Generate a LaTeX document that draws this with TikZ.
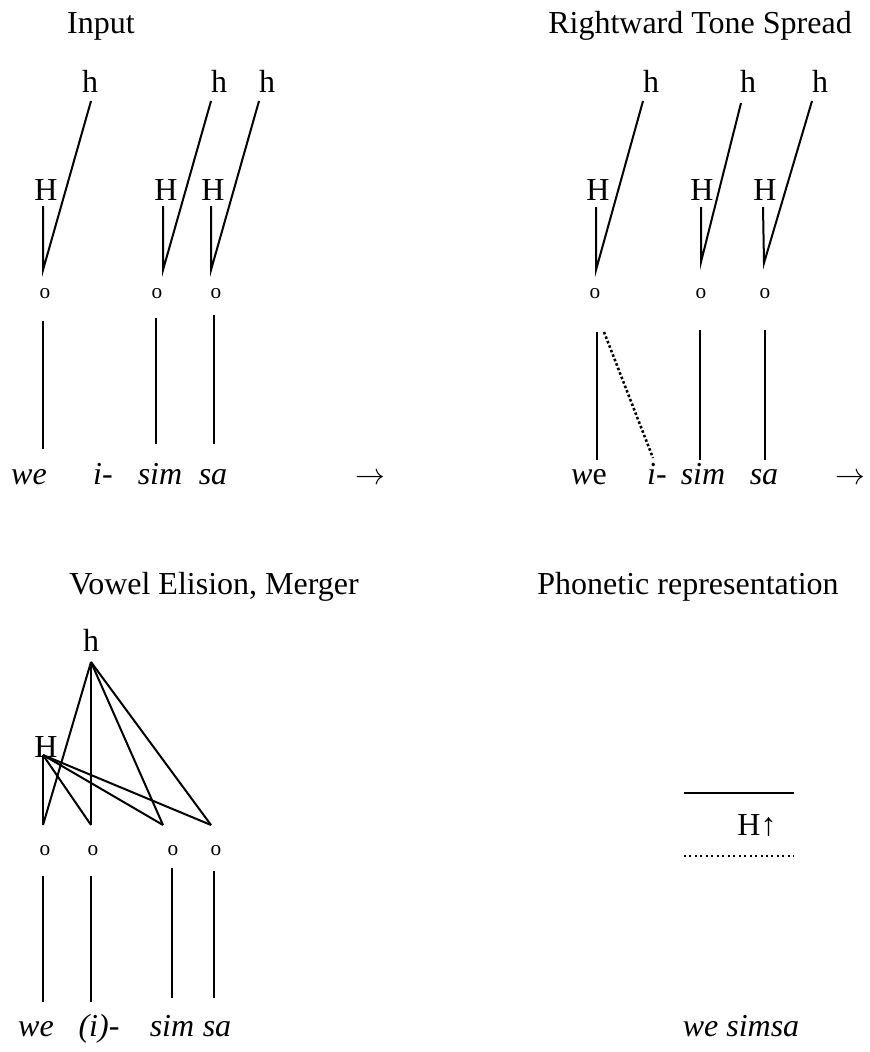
\documentclass[tikz,border=0pt]{standalone}
\usepackage{fontspec}
\setmainfont{Liberation Serif}
\begin{document}
\begin{tikzpicture}[x=0.75pt,y=-0.75pt, line width=1.5pt,
  lab/.style={inner sep=0pt, font=\fontsize{24}{28}\selectfont},
  ttl/.style={lab, anchor=base},
  arr/.style={inner sep=0pt, anchor=base, font=\fontsize{24}{28}\selectfont},
  wrd/.style={inner sep=0pt, anchor=base, font=\fontsize{24}{28}\selectfont\itshape},
  slot/.style={inner sep=0pt, font=\fontsize{16}{18}\selectfont},
  assoc/.style={line width=1.5pt},
  spread/.style={line width=1.9pt, dash pattern=on 1.9pt off 1.7pt},
  phondot/.style={line width=1.6pt, dash pattern=on 1.5pt off 2.6pt}]
\useasboundingbox (0,0) rectangle (869,1052);

% ---------- Panel 1: Input ----------
\node[ttl] (t1) at (101,34) {Input};
\node[lab] (h11) at (90,81) {h};
\node[lab] (h12) at (219,81) {h};
\node[lab] (h13) at (267,81) {h};
\node[lab] (H11) at (46,190) {H};
\node[lab] (H12) at (166,190) {H};
\node[lab] (H13) at (213,190) {H};
\node[slot] (o11) at (45,294) {o};
\node[slot] (o12) at (157,294) {o};
\node[slot] (o13) at (216,294) {o};
\coordinate (h11b) at (91,101);
\coordinate (h12b) at (211,101);
\coordinate (h13b) at (259,101);
\coordinate (H11b) at (43,206);
\coordinate (H12b) at (163,206);
\coordinate (H13b) at (211,206);
\coordinate (o11t) at (43,270);
\coordinate (o12t) at (163,270);
\coordinate (o13t) at (211,270);
\draw[assoc] (H11b) -- (o11t) -- (h11b);
\draw[assoc] (H12b) -- (o12t) -- (h12b);
\draw[assoc] (H13b) -- (o13t) -- (h13b);
\coordinate (s11t) at (43,321);  \coordinate (s11b) at (43,449);
\coordinate (s12t) at (156,318); \coordinate (s12b) at (156,444);
\coordinate (s13t) at (214,315); \coordinate (s13b) at (214,444);
\draw[assoc] (s11t) -- (s11b);
\draw[assoc] (s12t) -- (s12b);
\draw[assoc] (s13t) -- (s13b);
\node[wrd] (w11) at (29,484) {we};
\node[wrd] (w12) at (103,484) {i-};
\node[wrd] (w13) at (160,484) {sim};
\node[wrd] (w14) at (213,484) {sa};
\node[arr] (ar1) at (370,484) {\scalebox{0.9}{$\rightarrow$}};

% ---------- Panel 2: Rightward Tone Spread ----------
\node[ttl] (t2) at (700,34) {Rightward Tone Spread};
\node[lab] (h21) at (651,81) {h};
\node[lab] (h22) at (748,81) {h};
\node[lab] (h23) at (820,81) {h};
\node[lab] (H21) at (598,190) {H};
\node[lab] (H22) at (702,190) {H};
\node[lab] (H23) at (765,190) {H};
\node[slot] (o21) at (595,294) {o};
\node[slot] (o22) at (701,294) {o};
\node[slot] (o23) at (765,294) {o};
\coordinate (h21b) at (643,101);
\coordinate (h22b) at (741,103);
\coordinate (h23b) at (812,101);
\coordinate (H21b) at (596,207);
\coordinate (H22b) at (701,207);
\coordinate (H23b) at (763,207);
\coordinate (o21t) at (596,270);
\coordinate (o22t) at (701,262);
\coordinate (o23t) at (764,263);
\draw[assoc] (H21b) -- (o21t) -- (h21b);
\draw[assoc] (H22b) -- (o22t) -- (h22b);
\draw[assoc] (H23b) -- (o23t) -- (h23b);
\coordinate (s21t) at (597,332); \coordinate (s21b) at (597,460);
\coordinate (d21t) at (604,332); \coordinate (d21b) at (653,458);
\coordinate (s22t) at (700,330); \coordinate (s22b) at (700,460);
\coordinate (s23t) at (765,330); \coordinate (s23b) at (765,460);
\draw[assoc] (s21t) -- (s21b);
\draw[spread] (d21t) -- (d21b);
\draw[assoc] (s22t) -- (s22b);
\draw[assoc] (s23t) -- (s23b);
\node[wrd] (w21) at (589,484) {w\upshape e};
\node[wrd] (w22) at (657,484) {i-};
\node[wrd] (w23) at (703,484) {sim};
\node[wrd] (w24) at (764,484) {sa};
\node[arr] (ar2) at (850,484) {\scalebox{0.9}{$\rightarrow$}};

% ---------- Panel 3: Vowel Elision, Merger ----------
\node[ttl] (t3) at (214,594) {Vowel Elision, Merger};
\node[lab] (h31) at (91,640) {h};
\node[lab] (H31) at (46,747) {H};
\coordinate (hA) at (91,662);
\coordinate (HA) at (43,755);
\coordinate (b1) at (43,825);
\coordinate (b2) at (91,825);
\coordinate (b3) at (163,825);
\coordinate (b4) at (211,825);
\draw[assoc] (hA) -- (b1);
\draw[assoc] (hA) -- (b2);
\draw[assoc] (hA) -- (b3);
\draw[assoc] (hA) -- (b4);
\draw[assoc] (HA) -- (b1);
\draw[assoc] (HA) -- (b2);
\draw[assoc] (HA) -- (b3);
\draw[assoc] (HA) -- (b4);
\node[slot] (o31) at (45,851) {o};
\node[slot] (o32) at (93,851) {o};
\node[slot] (o33) at (173,851) {o};
\node[slot] (o34) at (216,851) {o};
\coordinate (s31t) at (43,876);  \coordinate (s31b) at (43,1002);
\coordinate (s32t) at (91,876);  \coordinate (s32b) at (91,1002);
\coordinate (s33t) at (172,868); \coordinate (s33b) at (172,998);
\coordinate (s34t) at (214,871); \coordinate (s34b) at (214,998);
\draw[assoc] (s31t) -- (s31b);
\draw[assoc] (s32t) -- (s32b);
\draw[assoc] (s33t) -- (s33b);
\draw[assoc] (s34t) -- (s34b);
\node[wrd] (w31) at (36,1036) {we};
\node[wrd] (w32) at (99,1036) {(i)-};
\node[wrd] (w33) at (172,1036) {sim};
\node[wrd] (w34) at (217,1036) {sa};

% ---------- Panel 4: Phonetic representation ----------
\node[ttl] (t4) at (688,594) {Phonetic representation};
\coordinate (p1l) at (684,793); \coordinate (p1r) at (794,793);
\draw[assoc] (p1l) -- (p1r);
\node[lab] (Hup) at (757,825) {H↑};
\coordinate (p2l) at (684,856); \coordinate (p2r) at (794,856);
\draw[phondot] (p2l) -- (p2r);
\node[wrd] (w41) at (741,1036) {we simsa};
\end{tikzpicture}
\end{document}
